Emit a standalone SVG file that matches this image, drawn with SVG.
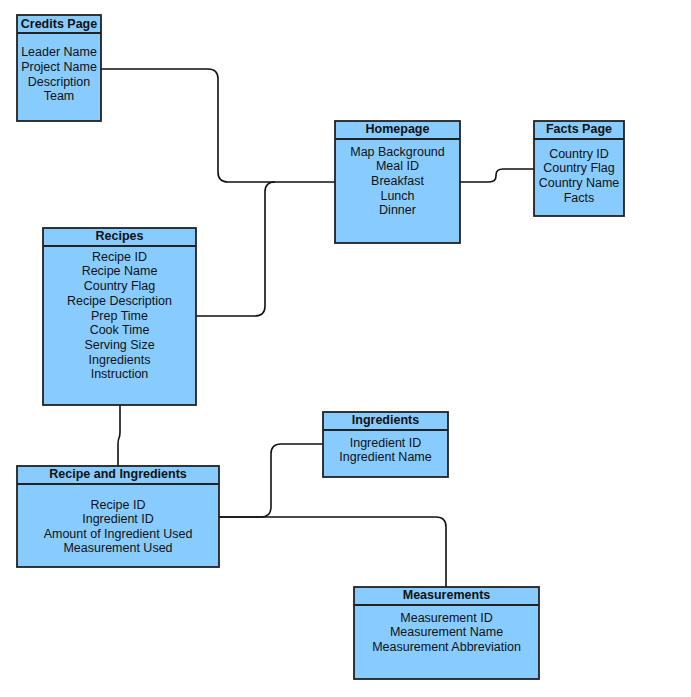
<svg xmlns="http://www.w3.org/2000/svg" width="691" height="697" viewBox="0 0 691 697">
<style>
.box{fill:#88CCFF;stroke:#222;stroke-width:1.8}
.hd{stroke:#222;stroke-width:1.8}
text{font-family:"Liberation Sans",Arial,sans-serif;font-size:12.5px;fill:#111;text-anchor:middle}
.t{font-weight:bold}
.c{fill:none;stroke:#111;stroke-width:1.6}
</style>
<rect width="691" height="697" fill="#fff"/>
<g id="connectors">
<path class="c" d="M101,69 H208 Q218,69 218,79 V172 Q218,182 228,182 H335"/>
<path class="c" d="M196,316 H255 Q265,316 265,306 V192 Q265,182 275,182"/>
<path class="c" d="M460,182 H489 Q496,182 496,176 V175 Q496,169 503,169 H534"/>
<path class="c" d="M120,405 V432 Q120,436 119,438 Q118,440 118,444 V466"/>
<path class="c" d="M219,517 H261 Q271,517 271,507 V454 Q271,444 281,444 H323"/>
<path class="c" d="M219,517 H436 Q446,517 446,527 V587"/>
</g>
<g id="credits">
<rect class="box" x="17" y="15" width="84" height="106"/>
<line class="hd" x1="17" y1="33" x2="101" y2="33"/>
<text class="t" x="59" y="28">Credits Page</text>
<text x="59" y="56">Leader Name</text>
<text x="59" y="71">Project Name</text>
<text x="59" y="85.5">Description</text>
<text x="59" y="100">Team</text>
</g>
<g id="homepage">
<rect class="box" x="335" y="121" width="125" height="122"/>
<line class="hd" x1="335" y1="139" x2="460" y2="139"/>
<text class="t" x="397.5" y="133">Homepage</text>
<text x="397.5" y="155.5">Map Background</text>
<text x="397.5" y="170">Meal ID</text>
<text x="397.5" y="185">Breakfast</text>
<text x="397.5" y="199.5">Lunch</text>
<text x="397.5" y="214">Dinner</text>
</g>
<g id="facts">
<rect class="box" x="534" y="121" width="90" height="95"/>
<line class="hd" x1="534" y1="139" x2="624" y2="139"/>
<text class="t" x="579" y="133">Facts Page</text>
<text x="579" y="157.5">Country ID</text>
<text x="579" y="172">Country Flag</text>
<text x="579" y="187">Country Name</text>
<text x="579" y="201.5">Facts</text>
</g>
<g id="recipes">
<rect class="box" x="43" y="228" width="153" height="177"/>
<line class="hd" x1="43" y1="246" x2="196" y2="246"/>
<text class="t" x="119.5" y="240">Recipes</text>
<text x="119.5" y="260.5">Recipe ID</text>
<text x="119.5" y="275">Recipe Name</text>
<text x="119.5" y="290">Country Flag</text>
<text x="119.5" y="304.5">Recipe Description</text>
<text x="119.5" y="319.5">Prep Time</text>
<text x="119.5" y="334">Cook Time</text>
<text x="119.5" y="348.5">Serving Size</text>
<text x="119.5" y="363.5">Ingredients</text>
<text x="119.5" y="378">Instruction</text>
</g>
<g id="recipe-ingredients">
<rect class="box" x="17" y="466" width="202" height="101"/>
<line class="hd" x1="17" y1="484" x2="219" y2="484"/>
<text class="t" x="118" y="478">Recipe and Ingredients</text>
<text x="118" y="508.5">Recipe ID</text>
<text x="118" y="523">Ingredient ID</text>
<text x="118" y="537.5">Amount of Ingredient Used</text>
<text x="118" y="552">Measurement Used</text>
</g>
<g id="ingredients">
<rect class="box" x="323" y="412" width="125" height="65"/>
<line class="hd" x1="323" y1="430" x2="448" y2="430"/>
<text class="t" x="385.5" y="424">Ingredients</text>
<text x="385.5" y="446.5">Ingredient ID</text>
<text x="385.5" y="461">Ingredient Name</text>
</g>
<g id="measurements">
<rect class="box" x="354" y="587" width="185" height="92"/>
<line class="hd" x1="354" y1="605" x2="539" y2="605"/>
<text class="t" x="446.5" y="599">Measurements</text>
<text x="446.5" y="621.5">Measurement ID</text>
<text x="446.5" y="636">Measurement Name</text>
<text x="446.5" y="651">Measurement Abbreviation</text>
</g>
</svg>
